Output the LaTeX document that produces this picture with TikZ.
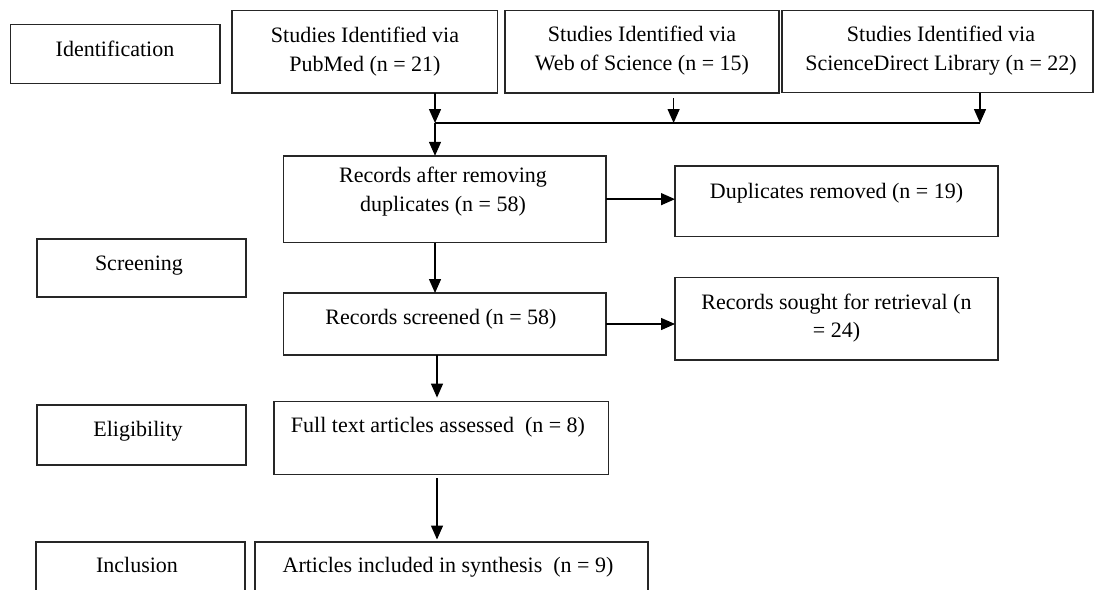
\documentclass[tikz,border=0pt]{standalone}
\usepackage{fontspec}
\setmainfont{Liberation Serif}
\usetikzlibrary{arrows.meta}
\begin{document}
\begin{tikzpicture}[x=1pt,y=-1pt,
 box/.style={draw=black!85, line width=1.4pt, inner sep=0pt, outer sep=0pt},
 txt/.style={anchor=base, align=center, inner sep=0pt, font=\fontsize{22}{28.5}\selectfont},
 arr/.style={line width=1.4pt, draw=black, -{Triangle[length=14pt,width=12pt]}},
 conn/.style={line width=1.4pt, draw=black}]
\clip (0,0) rectangle (1099,589);
\fill[white] (0,0) rectangle (1099,589);
% boxes
\node[box, minimum width=209.5pt, minimum height=59pt] (ident) at (115.25,54) {};
\node[box, minimum width=265.5pt, minimum height=82.5pt] (pub) at (364.75,51.75) {};
\node[box, minimum width=274pt, minimum height=82.5pt] (wos) at (642,51.75) {};
\node[box, minimum width=311pt, minimum height=82pt] (sd) at (937.5,51.5) {};
\node[box, minimum width=322.5pt, minimum height=86.7pt] (rar) at (444.75,199.15) {};
\node[box, minimum width=323pt, minimum height=70.5pt] (dup) at (836.5,201.25) {};
\node[box, minimum width=209pt, minimum height=58pt] (scr) at (141.5,268) {};
\node[box, minimum width=322.5pt, minimum height=62pt] (rs) at (444.75,324) {};
\node[box, minimum width=323pt, minimum height=82.5pt] (rsr) at (836.5,318.75) {};
\node[box, minimum width=209pt, minimum height=60pt] (elg) at (141.5,435) {};
\node[box, minimum width=334.6pt, minimum height=73pt] (ft) at (441.3,438.1) {};
\node[box, minimum width=209pt, minimum height=78pt] (inc) at (140.5,581) {};
\node[box, minimum width=393pt, minimum height=78pt] (art) at (451.5,581) {};
% texts (multi-line nodes: base = last line's baseline)
\node[txt] (identT) at (115,56) {Identification};
\node[txt] (pubT) at (365,71) {Studies Identified via\\PubMed (n = 21)};
\node[txt] (wosT) at (642,70) {Studies Identified via\\Web of Science (n = 15)};
\node[txt] (sdT) at (941,70) {Studies Identified via\\ScienceDirect Library (n = 22)};
\node[txt] (rarT) at (443,211) {Records after removing\\duplicates (n = 58)};
\node[txt] (dupT) at (836.5,198.5) {Duplicates removed (n = 19)};
\node[txt] (scrT) at (139,270) {Screening};
\node[txt] (rsT) at (441,324) {Records screened (n = 58)};
\node[txt] (rsrT) at (836.5,337.5) {Records sought for retrieval (n\\= 24)};
\node[txt] (elgT) at (138,436) {Eligibility};
\node[txt] (ftT) at (438,432.7) {Full text articles assessed\ \ (n = 8)};
\node[txt] (incT) at (137,572) {Inclusion};
\node[txt] (artT) at (448,572.5) {Articles included in synthesis\ \ (n = 9)};
% connectors
\coordinate (j1) at (435,123);
\coordinate (j2) at (673.6,123);
\coordinate (j3) at (980,123);
\coordinate (a2) at (437,0);
\draw[arr] (pub.south -| j1) -- (j1);
\draw[arr, shorten <=5pt] (wos.south -| j2) -- (j2);
\draw[arr] (sd.south -| j3) -- (j3);
\draw[conn] (j1) -- (j3);
\draw[arr] (j1) -- (rar.north -| j1);
\draw[arr] (rar.east) -- (rar.east -| dup.west);
\draw[arr] (rar.south -| j1) -- (rs.north -| j1);
\draw[arr] (rs.east) -- (rs.east -| rsr.west);
\draw[arr, shorten >=4pt] (rs.south -| a2) -- (ft.north -| a2);
\draw[arr, shorten <=3.5pt, shorten >=2.5pt] (ft.south -| a2) -- (art.north -| a2);
\end{tikzpicture}
\end{document}
